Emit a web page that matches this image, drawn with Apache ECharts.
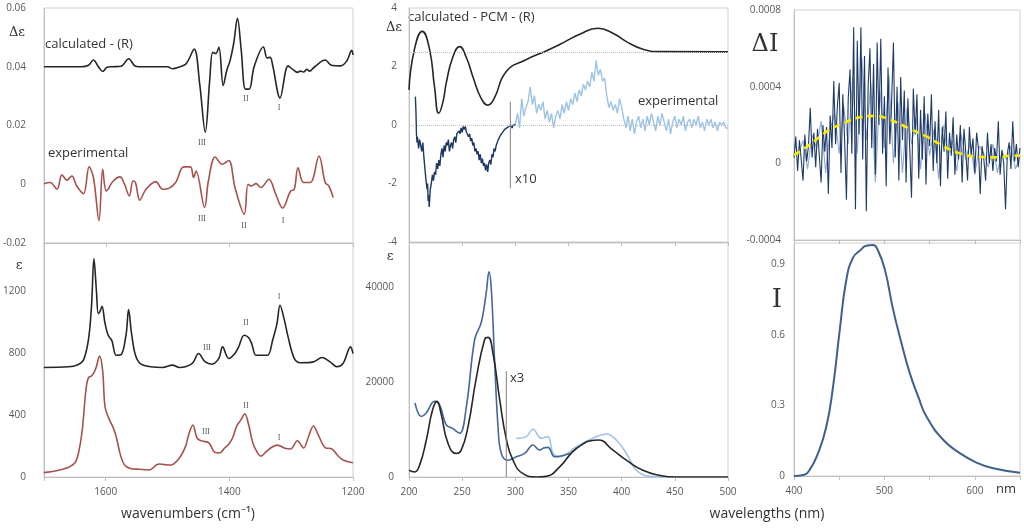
<!DOCTYPE html>
<html><head><meta charset="utf-8">
<script src="https://cdn.jsdelivr.net/npm/echarts@6/dist/echarts.min.js"></script>
<style>html,body{margin:0;padding:0;background:#fff}#c{width:1024px;height:530px}</style>
</head><body><div id="c"></div>
<script>
// ---------- DATA ----------
// Panel 1: VCD (Δε) vs wavenumber
const vcdCalc = [[1700,0.040],[1640,0.040],[1628,0.0405],[1620,0.0423],[1612,0.040],[1605,0.0384],[1598,0.0398],[1590,0.040],[1575,0.0402],[1563,0.0427],[1552,0.0402],[1540,0.040],[1500,0.040],[1492,0.0393],[1480,0.040],[1470,0.041],[1457,0.046],[1448,0.034],[1439,0.0177],[1432,0.035],[1427,0.0449],[1422,0.0445],[1417,0.0466],[1410,0.0336],[1404,0.039],[1399,0.042],[1393,0.048],[1387,0.0565],[1381,0.046],[1374,0.0324],[1368,0.0324],[1360,0.040],[1345,0.0467],[1339,0.043],[1334,0.0432],[1330,0.0405],[1318,0.0294],[1305,0.0403],[1297,0.039],[1290,0.0381],[1285,0.0385],[1280,0.0382],[1275,0.0391],[1270,0.0385],[1262,0.040],[1245,0.0423],[1235,0.0405],[1220,0.0403],[1210,0.042],[1202,0.0456],[1200,0.044]];
const vcdExp = [[1700,0.0002],[1690,0.0006],[1679,-0.0017],[1671,0.0032],[1663,0.0014],[1655,0.0028],[1647,-0.0006],[1636,-0.0032],[1627,0.0059],[1620,0.0023],[1611,-0.0124],[1605,0.0051],[1599,-0.0023],[1588,0.0011],[1577,0.0025],[1570,0.0002],[1562,-0.004],[1556,0.0011],[1552,0.0006],[1545,-0.0054],[1535,-0.0017],[1519,0.0009],[1508,-0.0017],[1498,-0.0014],[1487,0.0006],[1474,0.0059],[1463,0.0059],[1458,0.0023],[1454,0.0045],[1440,-0.0079],[1434,0.0011],[1423,0.0093],[1412,0.0068],[1401,0.0081],[1391,-0.0011],[1376,-0.0102],[1370,0.0],[1365,-0.0006],[1357,0.0002],[1349,-0.0011],[1336,0.0017],[1325,-0.0034],[1314,-0.0081],[1301,-0.0023],[1295,-0.0017],[1289,0.0056],[1280,0.0006],[1269,0.0006],[1255,0.0096],[1245,0.0006],[1239,-0.0006],[1232,-0.0045]];
// Panel 2: IR (ε) vs wavenumber
const irCalc = [[1700,707],[1660,711],[1645,725],[1636,754],[1628,883],[1623,1100],[1619,1408],[1615,1200],[1612,1054],[1609,1070],[1606,1101],[1601,990],[1596,915],[1590,880],[1583,786],[1575,790],[1567,920],[1563,1080],[1558,920],[1551,776],[1540,722],[1508,707],[1492,722],[1481,707],[1460,733],[1450,797],[1439,743],[1428,728],[1417,765],[1411,840],[1401,765],[1391,797],[1385,840],[1376,915],[1369,900],[1364,862],[1357,786],[1349,786],[1338,786],[1330,883],[1323,990],[1318,1108],[1311,1012],[1305,904],[1295,765],[1285,737],[1264,743],[1250,771],[1237,743],[1226,711],[1216,733],[1204,840],[1200,797]];
const irExp = [[1700,28],[1680,40],[1663,58],[1650,90],[1644,155],[1638,300],[1632,560],[1628,640],[1622,655],[1616,700],[1610,780],[1605,690],[1601,450],[1594,370],[1588,320],[1583,260],[1577,155],[1570,80],[1560,55],[1546,50],[1530,45],[1514,84],[1505,80],[1495,77],[1482,116],[1471,196],[1466,270],[1459,336],[1452,250],[1444,232],[1433,220],[1424,160],[1416,155],[1407,190],[1402,206],[1395,250],[1388,330],[1381,370],[1375,408],[1369,340],[1362,220],[1355,160],[1349,135],[1340,165],[1330,195],[1322,206],[1310,185],[1301,181],[1290,234],[1280,187],[1272,260],[1264,329],[1256,270],[1245,190],[1234,181],[1225,140],[1216,110],[1200,92]];
// Panel 3: ECD (Δε) vs wavelength
const ecdCalc = [[200,1.2],[205,2.57],[212.5,3.2],[219.4,2.57],[224,1.3],[228,0.4],[232,0.8],[235,1.43],[241,2.3],[247.6,2.68],[254,2.3],[260,1.66],[268,0.9],[274.3,0.68],[280,0.9],[291.5,1.83],[310,2.23],[330,2.55],[341.7,2.75],[360.5,3.1],[377.7,3.31],[391.8,3.14],[404.4,2.85],[420,2.59],[435.7,2.51],[500,2.5]];
const ecdExpUV = [[206,0.97],[206.6,0.4],[207,-0.3],[207.5,-0.6],[208,-0.4],[209,-0.8],[210,-0.5],[211,-0.7],[212,-0.9],[213,-0.6],[214,-1.1],[215,-1.5],[216,-1.9],[217,-2.2],[217.5,-2.0],[218,-2.6],[218.5,-2.4],[219,-2.8],[219.5,-2.5],[220,-2.2],[221,-2.0],[222,-1.7],[223,-1.9],[224,-1.6],[225,-1.7],[226,-1.3],[227,-1.5],[228,-1.2],[229,-1.4],[230,-1.0],[231,-0.8],[232,-1.1],[233,-0.7],[234,-0.9],[235,-0.6],[236,-0.7],[237,-0.5],[238,-0.9],[239,-0.7],[240,-0.6],[241,-0.8],[242,-0.5],[243,-0.4],[244,-0.6],[245,-0.3],[246,-0.35],[247,-0.2],[248,-0.3],[249,-0.1],[250,-0.25],[251,-0.05],[252,-0.15],[253,-0.05],[254,-0.25],[255,-0.2],[256,-0.4],[257,-0.3],[258,-0.55],[259,-0.45],[260,-0.7],[261,-0.6],[262,-0.9],[263,-0.8],[264,-1.0],[265,-0.9],[266,-1.2],[267,-1.0],[268,-1.3],[269,-1.15],[270,-1.4],[271,-1.3],[272,-1.55],[273,-1.35],[274,-1.6],[275,-1.3],[276,-1.2],[277,-1.35],[278,-1.0],[279,-1.1],[280,-0.8],[281,-0.9],[282,-0.7],[283,-0.6],[284,-0.5],[285,-0.55],[286,-0.35],[287,-0.4],[288,-0.25],[289,-0.3],[290,-0.15],[291,-0.2],[292,-0.1],[293,-0.15],[294,-0.05],[295,-0.1],[296,0.0],[297,-0.1],[298,0.0],[299,0.05],[300,0.0]];
const ecdExpVis = [[300,0.0],[302,0.4],[304,-0.1],[306,0.9],[308,0.3],[310,0.6],[312,0.8],[314,1.3],[316,0.7],[318,1.0],[320,0.4],[322,0.7],[324,0.5],[326,0.8],[328,0.2],[330,0.5],[332,0.1],[334,0.4],[336,-0.1],[338,0.3],[340,0.5],[342,0.2],[344,0.7],[346,0.4],[348,0.8],[350,0.5],[352,0.9],[354,0.7],[356,1.1],[358,0.8],[360,1.2],[362,1.0],[364,1.4],[366,1.2],[368,1.5],[370,1.3],[372,1.8],[374,1.5],[376,2.2],[378,1.7],[380,1.9],[382,1.5],[384,1.6],[386,1.0],[388,0.6],[390,0.8],[392,0.5],[394,0.7],[396,0.4],[398,0.9],[400,0.6],[402,0.2],[404,-0.1],[406,0.3],[408,-0.2],[410,0.2],[412,-0.3],[414,0.1],[416,0.3],[418,-0.1],[420,0.2],[422,-0.2],[424,0.3],[426,0.0],[428,0.4],[430,0.1],[432,-0.2],[434,0.3],[436,0.0],[438,0.4],[440,0.1],[442,-0.2],[444,0.2],[446,-0.3],[448,0.1],[450,0.3],[452,-0.1],[454,0.2],[456,0.0],[458,0.3],[460,-0.2],[462,0.1],[464,0.2],[466,-0.1],[468,0.2],[470,0.0],[472,0.3],[474,-0.1],[476,0.1],[478,-0.2],[480,0.2],[482,0.0],[484,0.2],[486,-0.1],[488,0.1],[490,-0.2],[492,0.1],[494,0.0],[496,0.1],[498,-0.1],[500,-0.1]];
const ecdX10Marker = [[295.3,0.8],[295.3,-2.17]];
const ecdRefLevels = [2.5, 0];
// Panel 4: UV (ε) vs wavelength
const uvCalc = [[200,1400],[205.3,1060],[210,2500],[216.3,7800],[222,14000],[226.3,15930],[230,13500],[236.7,7080],[244.5,4960],[249,5600],[255.5,10600],[263,20500],[271.2,29000],[274.3,29400],[279,26000],[285.3,16280],[291.5,8000],[297.8,3540],[307.2,700],[319.7,0],[329,140],[341.7,2120],[357.4,6000],[377.7,7800],[391.8,5660],[404.4,3540],[420,1400],[435.7,350],[451,0],[500,0]];
const uvExp = [[205.6,15580],[211.6,12740],[216,13400],[224,15930],[228.8,15200],[235,10970],[241,10250],[247.6,9200],[254,14900],[261.8,29000],[268,32570],[272.7,38940],[275.2,43190],[277.4,39640],[280.6,24070],[283.7,10620],[286.8,4960],[293,3540],[301,4250],[308.8,4960],[316.6,6730],[322.9,5660],[326.5,6100],[330.7,6230],[337,4250],[351,4960]];
const uvExpX3 = [[301,8140],[310.3,8500],[316.6,10050],[324.4,8140],[330.7,8500],[335.4,5000],[341.7,4250],[357.4,6370],[373,8140],[385.6,9060],[395,7790],[404.4,4960],[413.8,1420],[426.3,140],[448,0]];
const uvX3Marker = [[291.5,22300],[291.5,0]];
// Panel 5: CPL (ΔI) vs wavelength
const cplDark = [[400,0.3e-4],[402,1.4e-4],[404,-0.4e-4],[406,1.2e-4],[408,0.2e-4],[410,-0.9e-4],[412,1.5e-4],[414,0.1e-4],[416,0.9e-4],[418,2.9e-4],[420,0.3e-4],[422,1.6e-4],[424,-0.2e-4],[426,1.8e-4],[428,0.4e-4],[430,-1.0e-4],[432,2.0e-4],[434,0.6e-4],[436,1.9e-4],[438,-1.6e-4],[440,2.5e-4],[442,0.8e-4],[444,4.3e-4],[446,1.0e-4],[448,3.0e-4],[450,4.2e-4],[452,-0.5e-4],[454,3.6e-4],[456,1.2e-4],[458,-1.9e-4],[460,3.4e-4],[462,4.9e-4],[464,0.5e-4],[466,7.1e-4],[468,-2.4e-4],[470,6.4e-4],[472,1.5e-4],[474,7.1e-4],[476,0.2e-4],[478,5.6e-4],[480,-2.5e-4],[482,4.0e-4],[484,6.0e-4],[486,0.8e-4],[488,5.2e-4],[490,-0.6e-4],[492,6.3e-4],[494,2.0e-4],[496,6.5e-4],[498,0.5e-4],[500,3.5e-4],[502,-1.2e-4],[504,5.0e-4],[506,1.0e-4],[508,3.2e-4],[510,6.3e-4],[512,0.3e-4],[514,4.0e-4],[516,-0.9e-4],[518,4.5e-4],[520,1.2e-4],[522,3.8e-4],[524,-1.0e-4],[526,3.4e-4],[528,0.8e-4],[530,-1.8e-4],[532,3.9e-4],[534,1.5e-4],[536,3.6e-4],[538,-0.8e-4],[540,2.8e-4],[542,0.2e-4],[544,3.5e-4],[546,-1.1e-4],[548,2.6e-4],[550,0.9e-4],[552,3.6e-4],[554,-0.4e-4],[556,2.2e-4],[558,0.0],[560,2.8e-4],[562,-1.2e-4],[564,1.9e-4],[566,0.6e-4],[568,2.7e-4],[570,-0.8e-4],[572,1.6e-4],[574,0.4e-4],[576,2.4e-4],[578,-0.6e-4],[580,1.5e-4],[582,0.2e-4],[584,2.0e-4],[586,-1.0e-4],[588,1.8e-4],[590,0.6e-4],[592,-0.9e-4],[594,1.9e-4],[596,0.4e-4],[598,1.3e-4],[600,-0.5e-4],[602,1.6e-4],[604,0.8e-4],[606,-1.6e-4],[608,0.9e-4],[610,0.2e-4],[612,-0.9e-4],[614,1.6e-4],[616,0.0],[618,1.0e-4],[620,-0.4e-4],[622,0.8e-4],[624,0.1e-4],[626,2.2e-4],[628,-0.6e-4],[630,0.7e-4],[632,0.0],[634,-2.4e-4],[636,0.5e-4],[638,1.1e-4],[640,-0.3e-4],[642,2.2e-4],[644,0.1e-4],[646,1.0e-4],[648,-0.2e-4],[650,0.8e-4]];
const cplLight = [[400,1.0e-4],[405,0.5e-4],[410,1.2e-4],[415,-0.3e-4],[420,1.5e-4],[425,0.8e-4],[430,2.2e-4],[435,-0.5e-4],[440,1.8e-4],[445,2.6e-4],[450,0.5e-4],[455,3.0e-4],[460,1.0e-4],[465,4.5e-4],[470,0.5e-4],[475,5.5e-4],[480,1.2e-4],[485,4.2e-4],[490,-1.0e-4],[495,3.8e-4],[500,0.8e-4],[505,4.6e-4],[510,0.0],[515,3.2e-4],[520,-0.5e-4],[525,2.9e-4],[530,1.0e-4],[535,2.4e-4],[540,-0.3e-4],[545,2.6e-4],[550,0.4e-4],[555,1.8e-4],[560,-0.8e-4],[565,2.0e-4],[570,0.5e-4],[575,1.2e-4],[580,-0.4e-4],[585,1.5e-4],[590,0.2e-4],[595,1.1e-4],[600,-0.6e-4],[605,0.9e-4],[610,0.5e-4],[615,-0.2e-4],[620,1.0e-4],[625,-0.5e-4],[630,0.6e-4],[635,0.2e-4],[640,0.9e-4],[645,-0.3e-4],[650,0.4e-4]];
const cplFit = [[400,4.4e-5],[417,9.6e-5],[436,1.65e-4],[455,2.1e-4],[473,2.4e-4],[489,2.47e-4],[505,2.3e-4],[528,1.8e-4],[547,1.39e-4],[565,0.9e-4],[583.5,0.52e-4],[602,0.35e-4],[622,0.31e-4],[642.6,0.4e-4],[650,0.4e-4]];
// Panel 6: fluorescence (I) vs wavelength
const flI = [[400,0],[410,0.004],[417.3,0.026],[426.6,0.097],[435.8,0.21],[443.2,0.38],[450.6,0.62],[458,0.836],[465.3,0.928],[472.7,0.957],[480,0.978],[487.5,0.981],[493,0.957],[500.4,0.879],[509.6,0.708],[518.8,0.566],[528,0.438],[537.3,0.338],[546.5,0.253],[565,0.154],[583.4,0.097],[601.8,0.057],[620.3,0.033],[650,0.014]];

// ---------- CHART ----------
const GRAY = '#bfbfbf', LBL = '#595959', FONT = 'Open Sans';
const plain = v => String(+v.toPrecision(6));
function xAx(gi, o, lbl){ return Object.assign({type:'value', gridIndex:gi, splitLine:{show:false},
  axisLine:{show:true,onZero:false,lineStyle:{color:GRAY}}, axisTick:{show:true,length:4,lineStyle:{color:GRAY}},
  axisLabel:Object.assign({show:false,color:LBL,fontSize:10,fontFamily:FONT,margin:10,formatter:plain}, lbl||{})}, o); }
function yAx(gi, o, margin, lbl){ return Object.assign({type:'value', gridIndex:gi, splitLine:{show:false},
  axisLine:{show:true,onZero:false,lineStyle:{color:GRAY}}, axisTick:{show:false},
  axisLabel:Object.assign({color:LBL,fontSize:10,fontFamily:FONT,margin:margin,formatter:plain}, lbl||{})}, o); }
function line(xi, data, color, extra){ return Object.assign({type:'line', xAxisIndex:xi, yAxisIndex:xi, data:data,
  showSymbol:false, symbol:'none', smooth:false, lineStyle:{color:color,width:1.6}, itemStyle:{color:color}, silent:true, z:3}, extra||{}); }

const gridBase = {show:true, borderColor:'#d0d0d0', borderWidth:1, backgroundColor:'transparent'};
const txt = (t, x, y, size, opts) => ({type:'text', x:x, y:y,
  style:Object.assign({text:t, fill:'#333', font:size+'px "Open Sans"', textAlign:'left', textVerticalAlign:'middle'}, opts||{})});
const serif = (t, x, y, size, fill) => ({type:'text', x:x, y:y, style:{text:t, fill:fill||'#333', font:size+'px "DejaVu Serif", "Liberation Serif", serif', textAlign:'center', textVerticalAlign:'middle'}});
const roman = (t, x, y) => ({type:'text', x:x, y:y, style:{text:t, fill:'#555', font:'8px "Liberation Serif", serif', textAlign:'center', textVerticalAlign:'middle'}});

const option = {
  animation:false, backgroundColor:'#fff',
  grid:[
    Object.assign({left:40, top:8, width:313, height:235}, gridBase),
    Object.assign({left:40, top:243, width:313, height:234}, gridBase),
    Object.assign({left:409, top:8, width:319, height:234}, gridBase),
    Object.assign({left:409, top:243, width:319, height:234}, gridBase),
    Object.assign({left:794, top:10, width:226, height:230}, gridBase),
    Object.assign({left:794, top:243, width:226, height:233}, gridBase)
  ],
  xAxis:[
    xAx(0,{min:1200,max:1700,interval:200,inverse:true}),
    xAx(1,{min:1200,max:1700,interval:200,inverse:true},{show:true,formatter:v=> v%200===0 ? String(v) : ''}),
    xAx(2,{min:200,max:500,interval:50}),
    xAx(3,{min:200,max:500,interval:50},{show:true}),
    xAx(4,{min:400,max:650,interval:50}),
    xAx(5,{min:400,max:650,interval:50},{show:true,formatter:v=> (v%100===0 && v<650) ? String(v) : ''})
  ],
  yAxis:[
    yAx(0,{min:-0.02,max:0.06,interval:0.02},18),
    yAx(1,{min:0,max:1510,interval:400},18,{formatter:v=> v%400===0 ? String(v) : ''}),
    yAx(2,{min:-4,max:4,interval:2},12),
    yAx(3,{min:0,max:49260,interval:20000},15,{formatter:v=> v%20000===0 ? String(v) : ''}),
    yAx(4,{min:-0.0004,max:0.0008,interval:0.0004},13),
    yAx(5,{min:0,max:0.99,interval:0.3},9,{formatter:v=> v>0.95 ? '' : plain(v)})
  ],
  series:[
    line(0, vcdCalc, '#262626', {smooth:0.35}),
    line(0, vcdExp, '#a5524f', {smooth:0.35}),
    line(1, irCalc, '#262626', {smooth:0.35}),
    line(1, irExp, '#a5524f', {smooth:0.35}),
    line(2, ecdCalc, '#262626', {smooth:0.5, markLine:{silent:true, symbol:'none', label:{show:false},
      lineStyle:{color:'#bfbfbf', type:'dotted', width:1}, data:ecdRefLevels.map(v=>({yAxis:v}))}}),
    line(2, ecdExpVis, '#9dc3e6', {lineStyle:{color:'#9dc3e6',width:1.4}}),
    line(2, ecdExpUV, '#1f3864', {lineStyle:{color:'#1f3864',width:1.4}}),
    line(2, ecdX10Marker, '#7f7f7f', {lineStyle:{color:'#7f7f7f',width:1}}),
    line(3, uvExpX3, '#9dc3e6', {smooth:0.4}),
    line(3, uvExp, '#44679b', {smooth:0.4}),
    line(3, uvCalc, '#262626', {smooth:0.5}),
    line(3, uvX3Marker, '#7f7f7f', {lineStyle:{color:'#7f7f7f',width:1}}),
    line(4, cplLight, '#8faad0', {lineStyle:{color:'#8faad0',width:1.1}}),
    line(4, cplDark, '#1f3a66', {lineStyle:{color:'#1f3a66',width:1.1}}),
    line(4, cplFit, '#f5ea00', {smooth:0.5, lineStyle:{color:'#f5ea00',width:2.6,type:[7,5]}, z:5}),
    line(5, flI, '#3f5f8e', {smooth:0.5, lineStyle:{color:'#3f5f8e',width:2}})
  ],
  graphic:[
    serif('Δε', 17, 33, 13),
    txt('calculated - (R)', 45, 44, 13),
    txt('experimental', 48, 153, 13),
    roman('III', 202, 143), roman('II', 246, 99), roman('I', 279, 108),
    roman('III', 202, 219), roman('II', 244, 226), roman('I', 283, 221),
    serif('ε', 19, 266, 13),
    roman('III', 207, 348), roman('II', 246, 323), roman('I', 279, 297),
    roman('III', 206, 432), roman('II', 246, 406), roman('I', 279, 438),
    txt('wavenumbers (cm⁻¹)', 188, 514, 14, {textAlign:'center'}),
    txt('calculated - PCM - (R)', 408, 17, 13),
    serif('Δε', 394, 28, 13),
    txt('experimental', 638, 101, 13),
    txt('x10', 515, 179, 13),
    serif('ε', 390, 257, 13),
    txt('x3', 510, 378, 13),
    txt('wavelengths (nm)', 767, 514, 14, {textAlign:'center'}),
    serif('ΔI', 765, 45, 24),
    serif('I', 777, 300, 26),
    txt('nm', 1006, 489, 13, {textAlign:'center'})
  ]
};
const chart = echarts.init(document.getElementById('c'), null, {renderer:'canvas'});
chart.setOption(option);
</script></body></html>
